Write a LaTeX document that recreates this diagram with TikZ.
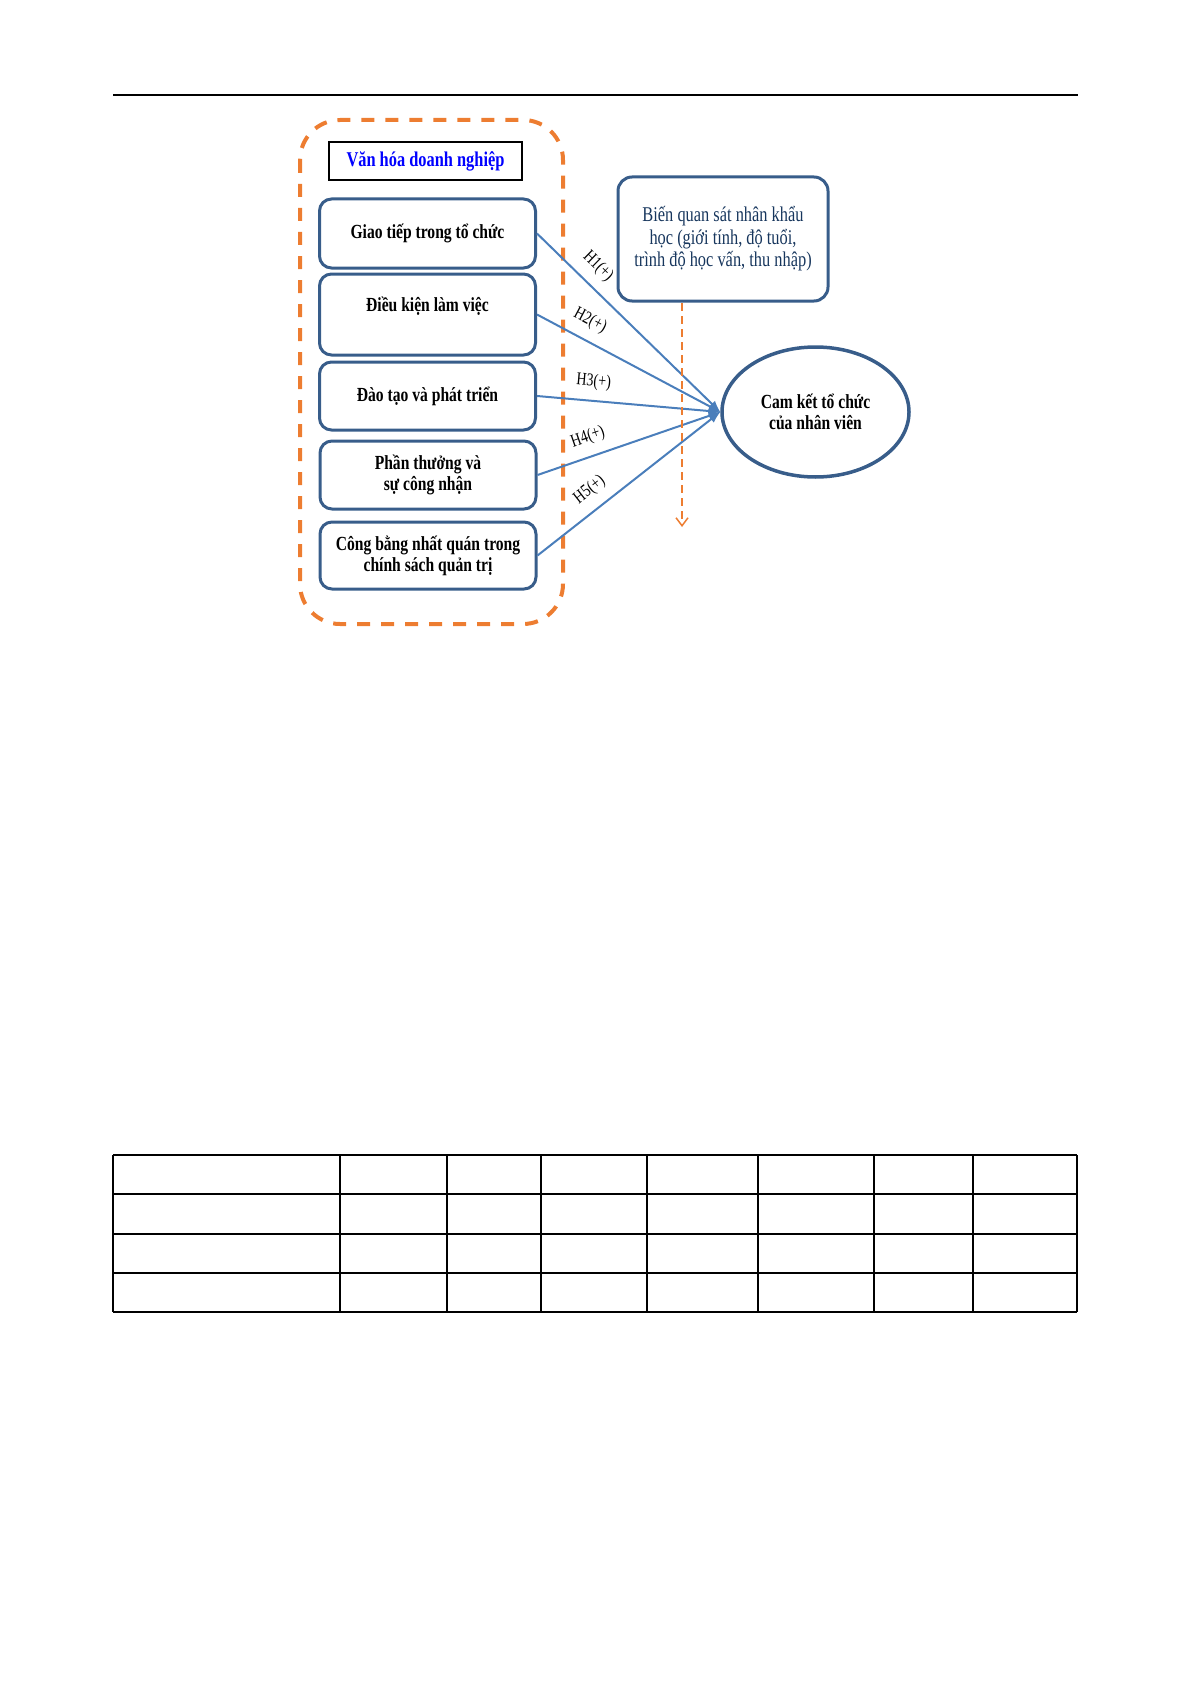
\documentclass[tikz,border=0pt]{standalone}
\usepackage{fontspec}
\setmainfont{Liberation Serif}[FakeStretch=0.78]
\usepackage{tikz}
\usetikzlibrary{arrows,arrows.meta,shapes}
\definecolor{box-blue}{RGB}{56,93,138}
\definecolor{line-blue}{RGB}{74,126,187}
\definecolor{dash-orange}{RGB}{237,125,49}
\definecolor{title-blue}{RGB}{0,0,255}
\definecolor{note-navy}{RGB}{23,54,93}
\tikzstyle{factor}=[draw=box-blue, line width=1.5pt, rounded corners=6pt, minimum width=108pt, inner sep=0pt, align=center, font=\fontsize{10}{10.5}\selectfont\bfseries]
\tikzstyle{hyp}=[draw=line-blue, line width=1pt, -latex]
\tikzstyle{hyplabel}=[sloped, above=4pt, inner sep=1pt, font=\fontsize{9}{9}\selectfont]

\begin{document}
\begin{tikzpicture}[x=0.5pt, y=-0.5pt]
	\useasboundingbox (0,0) rectangle (1192,1685);
	\draw[line width=0.7pt] (113,95) -- (1078,95);
	\draw[dash-orange, line width=2pt, dash pattern=on 6.5pt off 5.5pt, rounded corners=20pt] (300,120) rectangle (563,624);
	\node[draw, line width=1pt, minimum width=96.5pt, minimum height=19pt, font=\fontsize{10.5}{12}\selectfont\bfseries, text=title-blue] (culture) at (425.5,161) {Văn hóa doanh nghiệp};
	\node[factor, minimum height=34.5pt] (comm) at (427.5,233.5) {Giao tiếp trong tổ chức};
	\node[factor, minimum height=40.5pt] (work) at (427.5,314.5) {Điều kiện làm việc\\~};
	\node[factor, minimum height=34pt] (train) at (427.5,396) {Đào tạo và phát triển};
	\node[factor, minimum height=34pt] (reward) at (428,475) {Phần thưởng và\\sự công nhận};
	\node[factor, minimum height=33.5pt] (fair) at (428,555.5) {Công bằng nhất quán trong\\chính sách quản trị};
	\node[draw=box-blue, line width=1.5pt, rounded corners=7pt, minimum width=105pt, minimum height=62pt, inner sep=0pt, align=center, text=note-navy, font=\fontsize{10.5}{11.25}\selectfont] (demo) at (723,239) {Biến quan sát nhân khẩu\\học (giới tính, độ tuổi,\\trình độ học vấn, thu nhập)};
	\node[ellipse, draw=box-blue, line width=1.75pt, minimum width=93.5pt, minimum height=65pt, inner sep=0pt, align=center, font=\fontsize{10}{10.5}\selectfont\bfseries] (commit) at (815.5,412) {Cam kết tổ chức\\của nhân viên};
	\draw[hyp] (comm.east) -- node[hyplabel, pos=0.26]{H1(+)} (commit.west);
	\draw[hyp] (work.east) -- node[hyplabel, pos=0.24]{H2(+)} (commit.west);
	\draw[hyp] (train.east) -- node[hyplabel, pos=0.3]{H3(+)} (commit.west);
	\draw[hyp] (reward.east) -- node[hyplabel, pos=0.31]{H4(+)} (commit.west);
	\draw[hyp] (fair.east) -- node[hyplabel, pos=0.35]{H5(+)} (commit.west);
	\coordinate (mod top) at (682,303);
	\coordinate (mod end) at (682,527);
	\draw[dash-orange, line width=0.75pt, dash pattern=on 4pt off 2.5pt, -{Straight Barb[length=4pt, width=6pt]}] (mod top) -- (mod end);
	\foreach \y in {1155,1194,1234,1273,1312}
		\draw[line width=0.7pt] (113,\y) -- (1077,\y);
	\foreach \x in {113,340,447,541,647,758,874,973,1077}
		\draw[line width=0.7pt] (\x,1155) -- (\x,1312);
\end{tikzpicture}
\end{document}
